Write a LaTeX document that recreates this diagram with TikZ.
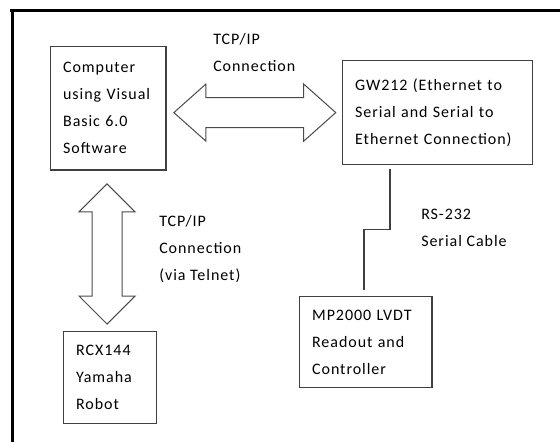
\documentclass[tikz,border=0pt]{standalone}
\usepackage{fontspec}
\setmainfont{Carlito}[LetterSpace=6]
\definecolor{boxgray}{HTML}{404040}
\definecolor{arrowgray}{HTML}{4A4A4A}
\tikzset{
  unit/.style={draw=boxgray, line width=0.9pt, anchor=north west, align=left,
    inner xsep=9.4pt, inner ysep=0pt, font=\fontsize{12}{20.25}\selectfont},
  lbl/.style={align=left, inner sep=0pt, anchor=west, font=\fontsize{12}{20.25}\selectfont},
  fat/.style={draw=arrowgray, line width=0.75pt, line join=miter},
  frame/.style={line width=2.4pt, black},
  cable/.style={draw=boxgray, line width=0.9pt}
}
\begin{document}
\begin{tikzpicture}[x=0.75pt,y=-0.75pt]
\useasboundingbox (0,0) rectangle (560,442);
\draw[frame] (10,10.5) -- (560,10.5);
\draw[frame] (12.8,10.5) -- (12.8,442);

\node[unit, text width=67.7pt, minimum height=92.5pt] (pc) at (50,46)
  {Computer\\using Visual\\Basic 6.0\\Software};
\node[unit, text width=123.4pt, minimum height=78pt] (gw) at (342,60)
  {GW212 (Ethernet to\\Serial and Serial to\\Ethernet Connection)};
\node[unit, text width=50.6pt, minimum height=69.2pt] (rcx) at (63,331)
  {RCX144\\Yamaha\\Robot};
\node[unit, text width=80.5pt, minimum height=68pt] (mp) at (299,296)
  {MP2000 LVDT\\Readout and\\Controller};

% TCP/IP link between computer and gateway
\coordinate (ha) at ([xshift=5.5pt]pc.east |- gw.west);
\coordinate (hb) at ([xshift=-4.7pt]gw.west);
\draw[fat] (ha) -- ([xshift=24pt,yshift=21.4pt]ha) -- ([xshift=24pt,yshift=11.25pt]ha)
  -- ([xshift=-24pt,yshift=11.25pt]hb) -- ([xshift=-24pt,yshift=21.4pt]hb) -- (hb)
  -- ([xshift=-24pt,yshift=-21.4pt]hb) -- ([xshift=-24pt,yshift=-11.25pt]hb)
  -- ([xshift=24pt,yshift=-11.25pt]ha) -- ([xshift=24pt,yshift=-21.4pt]ha) -- cycle;
\node[lbl] (tcpa) at (213,52.8) {TCP/IP\\Connection};

% telnet link between computer and robot
\coordinate (va) at ([xshift=-0.9pt,yshift=-10pt]pc.south);
\coordinate (vb) at ([xshift=-0.9pt,yshift=5.2pt]pc.south |- rcx.north);
\draw[fat] (va) -- ([xshift=21pt,yshift=-21pt]va) -- ([xshift=11.25pt,yshift=-21pt]va)
  -- ([xshift=11.25pt,yshift=21pt]vb) -- ([xshift=21pt,yshift=21pt]vb) -- (vb)
  -- ([xshift=-21pt,yshift=21pt]vb) -- ([xshift=-11.25pt,yshift=21pt]vb)
  -- ([xshift=-11.25pt,yshift=-21pt]va) -- ([xshift=-21pt,yshift=-21pt]va) -- cycle;
\node[lbl] (tcpb) at (159,249.3) {TCP/IP\\Connection\\(via Telnet)};

% serial cable
\coordinate (c1) at ([xshift=-35.6pt,yshift=-3pt]gw.south);
\coordinate (c2) at ([xshift=-1.4pt,yshift=4.8pt]mp.north);
\draw[cable] (c1) -- ++(0,-45pt) -| (c2);
\node[lbl] (rs) at (421,228.2) {RS-232\\Serial Cable};
\end{tikzpicture}
\end{document}
